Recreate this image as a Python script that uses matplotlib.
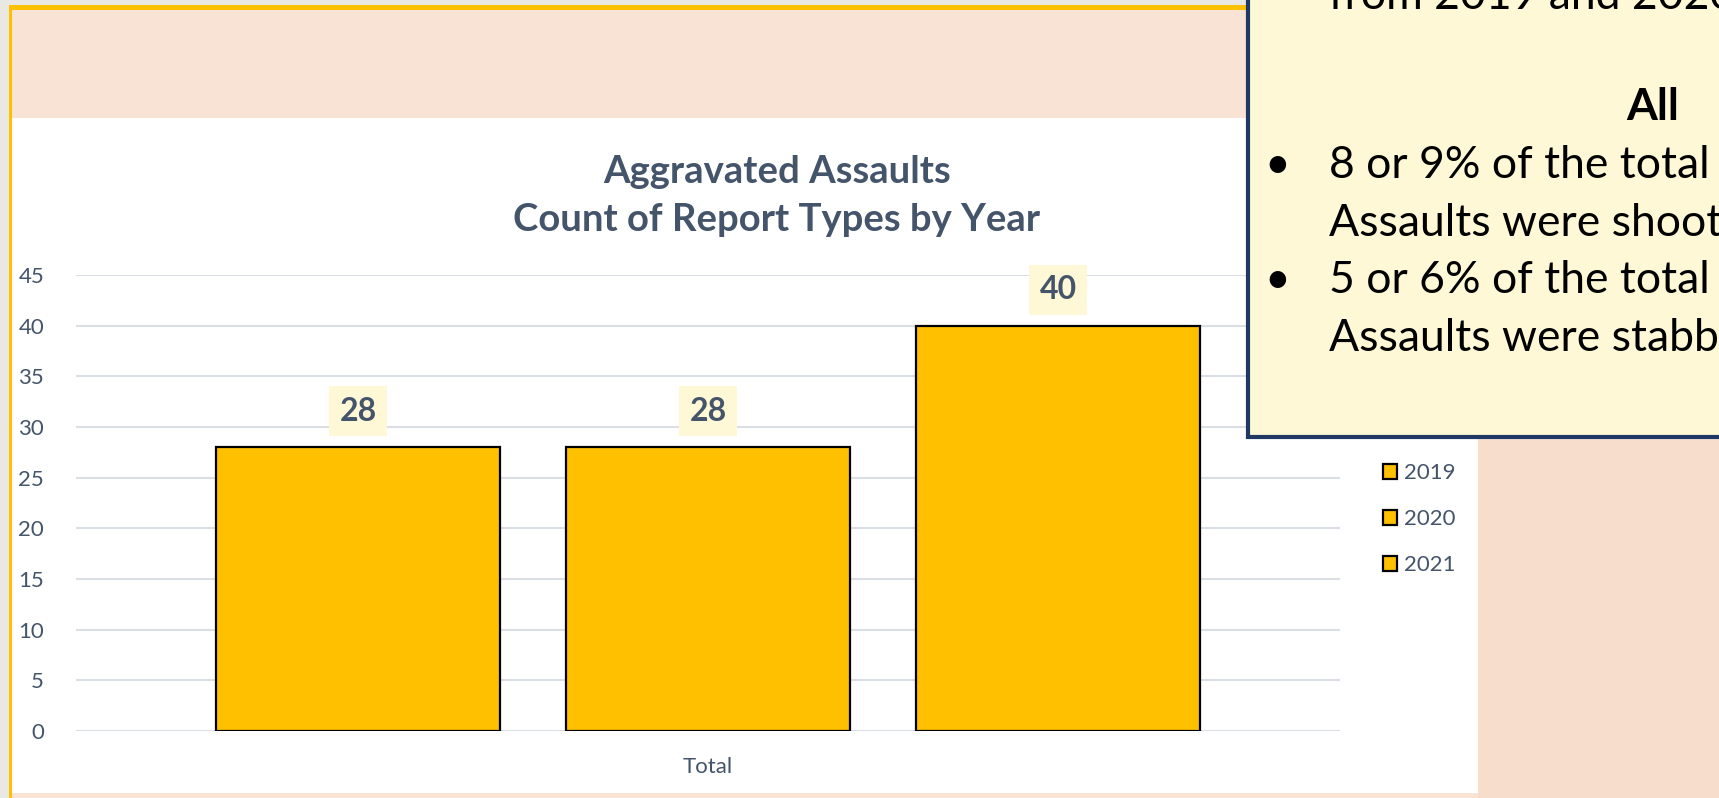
import matplotlib.pyplot as plt
from matplotlib.patches import Rectangle

years = ['2019', '2020', '2021']
counts = [28, 28, 40]
category = 'Total'
yticks = [0, 5, 10, 15, 20, 25, 30, 35, 40, 45]

title_lines = ['Aggravated Assaults', 'Count of Report Types by Year']
box_lines = ['from 2019 and 2020', 'All',
             '8 or 9% of the total Aggravated', 'Assaults were shootings',
             '5 or 6% of the total Aggravated', 'Assaults were stabbings']

bar_color = '#FFC000'
text_color = '#44546A'
W, H = 1719, 798

plt.rcParams['font.family'] = ['Lato', 'DejaVu Sans']

fig = plt.figure(figsize=(W / 100, H / 100), dpi=100)
fig.patch.set_facecolor('#EAE8E3')

# slide background, orange frame, white chart area (pixel coords)
bg = fig.add_axes([0, 0, 1, 1], zorder=0)
bg.set_xlim(0, W)
bg.set_ylim(H, 0)
bg.axis('off')
bg.add_patch(Rectangle((9, 5), W, H, color='#F9E3D5', lw=0))
bg.add_patch(Rectangle((1478, 440), W, H, color='#F7DDCC', lw=0))
bg.add_patch(Rectangle((9, 5), 1250, 5, color=bar_color, lw=0))
bg.add_patch(Rectangle((9, 5), 3, H, color=bar_color, lw=0))
bg.add_patch(Rectangle((12, 118), 1466, 675, color='white', lw=0))
bg.text(777, 172, title_lines[0], ha='center', va='center', fontsize=27.5,
        fontweight='bold', color=text_color)
bg.text(777, 220, title_lines[1], ha='center', va='center', fontsize=27.5,
        fontweight='bold', color=text_color)

# chart
ax = fig.add_axes([76 / W, 1 - 731 / H, 1264 / W, 456 / H], zorder=1)
ax.patch.set_alpha(0)
offsets = [-0.2769, 0, 0.2769]
width = 0.2239
for yr, c, off in zip(years, counts, offsets):
    ax.bar(off, c, width, color=bar_color, edgecolor='black', linewidth=1.6,
           label=yr, zorder=3)
    ax.annotate(str(c), (off, c), xytext=(0, 26), textcoords='offset points',
                ha='center', va='center', fontsize=23, fontweight='bold',
                color=text_color,
                bbox=dict(boxstyle='square,pad=0.33', fc='#FFF8D6', ec='none'))
ax.set_xlim(-0.5, 0.5)
ax.set_ylim(0, 45)
ax.set_yticks(yticks)
ax.set_xticks([0])
ax.set_xticklabels([category])
ax.tick_params(axis='both', length=0, labelsize=16, labelcolor=text_color)
ax.tick_params(axis='y', pad=23)
ax.tick_params(axis='x', pad=19)
ax.grid(axis='y', color='#DADFE6', linewidth=1.5, zorder=0)
for s in ax.spines.values():
    s.set_visible(False)

leg = ax.legend(loc='upper left', bbox_to_anchor=(1383 / W, 1 - 463 / H),
                bbox_transform=fig.transFigure, frameon=False, fontsize=16,
                handlelength=0.65, handleheight=0.65, handletextpad=0.3,
                labelspacing=1.17, borderpad=0, borderaxespad=0)
for t in leg.get_texts():
    t.set_color(text_color)

# overlapping text box
top = fig.add_axes([0, 0, 1, 1], zorder=2)
top.set_xlim(0, W)
top.set_ylim(H, 0)
top.axis('off')
top.patch.set_alpha(0)
top.add_patch(Rectangle((1248, -20), 600, 457, fc='#FFF8D6', ec='#1F3864', lw=3))
top.text(1329, 9, box_lines[0], ha='left', va='baseline', fontsize=32, color='black')
top.text(1653, 120, box_lines[1], ha='center', va='baseline', fontsize=32,
         fontweight='bold', color='black')
ys = [178, 236, 293, 351]
for i, y in enumerate(ys):
    top.text(1329, y, box_lines[2 + i], ha='left', va='baseline', fontsize=32, color='black')
    if i % 2 == 0:
        top.text(1277, y, '\u2022', ha='center', va='baseline', fontsize=32, color='black')

fig.savefig('out.png', dpi=100)
